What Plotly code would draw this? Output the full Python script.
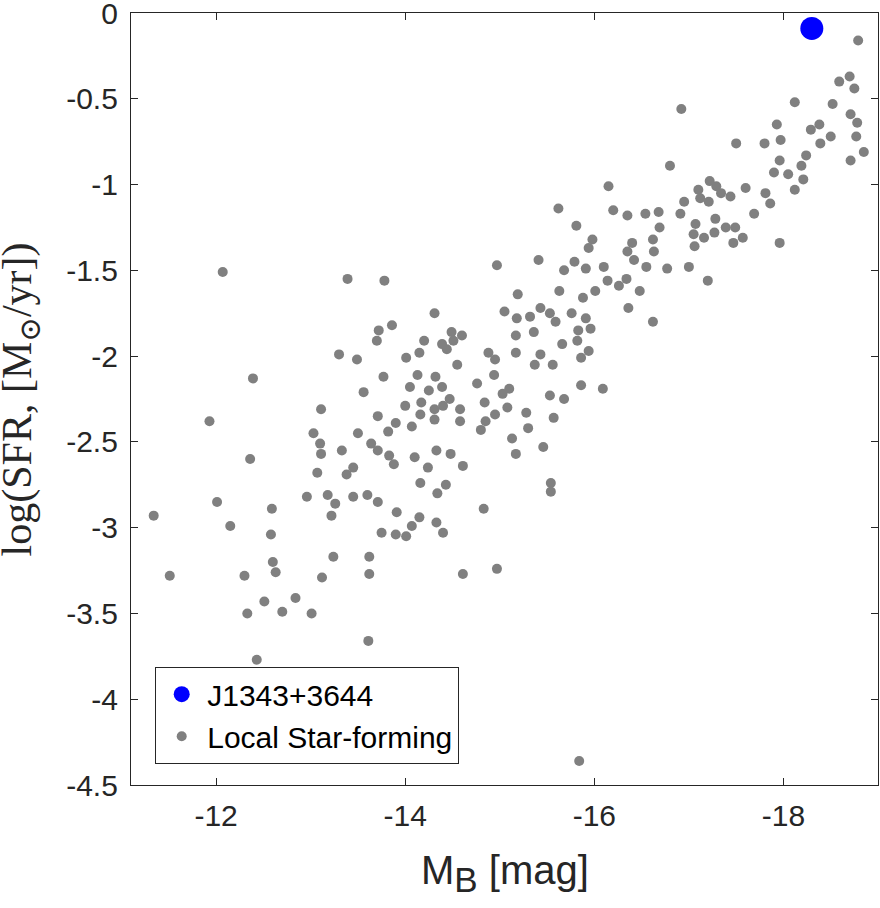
import plotly.graph_objects as go

# J1343+3644 (target galaxy)
mb_target = [-18.30]
logsfr_target = [-0.09]

# Local star-forming galaxies, M_B [mag]
mb_local = [
    -12.07, -12.39, -13.11, -11.93, -13.03, -13.10, -13.11, -12.36, -13.07, -12.96,
    -13.18, -12.01, -12.59, -11.34, -13.22, -12.15, -12.58, -13.24, -12.60, -12.63,
    -11.51, -12.30, -13.12, -12.84, -12.51, -12.33, -12.70, -13.01, -12.43,
    -14.97, -13.39, -13.78, -14.31, -13.72, -13.86, -13.70, -14.20, -14.49, -14.60,
    -14.39, -14.51, -14.44, -13.30, -13.49, -14.01, -14.15, -14.88, -14.95, -14.55,
    -13.77, -14.13, -14.32, -14.94, -14.05, -14.39, -14.25, -14.76, -13.56, -14.17,
    -14.47, -14.84, -14.00, -14.40, -14.31, -14.58, -14.16, -14.95, -13.71, -13.90,
    -14.31, -14.58, -14.85, -14.07, -13.82, -14.80, -13.50, -13.64, -13.71, -13.33,
    -13.83, -13.88, -14.10, -14.33, -14.48, -14.24, -14.61, -13.45, -13.38, -14.16,
    -14.43, -14.34, -13.45, -13.60, -13.71, -13.26, -14.83, -13.91, -14.15, -14.07,
    -14.33, -13.75, -13.90, -14.01, -14.40, -13.62,
    -13.62, -14.61, -14.97, -13.61,
    -16.80, -16.15, -15.62, -16.20, -16.35, -16.54, -16.68, -15.81, -16.69, -15.98,
    -15.94, -16.40, -16.62, -16.35, -16.63, -16.42, -15.41, -15.79, -15.68, -15.91,
    -16.10, -16.55, -16.77, -16.14, -16.34, -16.26, -16.48, -16.36, -16.62, -15.63,
    -15.88, -16.01, -15.19, -15.05, -15.18, -15.32, -15.43, -15.53, -15.59, -15.76,
    -15.91, -15.96, -15.83, -15.82, -15.66, -15.94, -15.86, -15.36, -15.17, -15.17,
    -15.43, -15.37, -15.56, -15.10, -15.03, -15.86, -16.09, -15.53, -15.68, -15.08,
    -15.28, -15.57, -15.30, -15.13, -15.17, -15.46,
    -15.54, -15.54, -15.84,
    -18.79, -18.70, -18.59, -18.75, -18.12, -18.52, -16.92, -18.71, -18.78, -17.93,
    -18.38, -18.29, -17.97, -18.77, -18.50, -17.50, -17.80, -18.39, -18.85, -18.24,
    -17.96, -18.71, -18.19, -17.90, -18.05, -18.21, -18.12, -17.22, -17.29, -17.10,
    -17.34, -17.60, -17.44, -17.81, -17.12, -17.21, -16.95, -17.86, -16.91, -17.69,
    -17.28, -17.07, -17.39, -17.49, -17.27, -17.05, -17.16, -17.57, -17.47, -17.96,
    -17.06, -17.00, -17.20,
]

# Local star-forming galaxies, log SFR [Msun/yr]
logsfr_local = [
    -1.51, -2.13, -2.31, -2.38, -2.45, -2.51, -2.57, -2.60, -2.68, -2.82,
    -2.81, -2.85, -2.89, -2.93, -2.93, -2.99, -3.04, -3.17, -3.20, -3.26,
    -3.28, -3.28, -3.29, -3.41, -3.43, -3.50, -3.49, -3.50, -3.77,
    -1.47, -1.55, -1.56, -1.75, -1.85, -1.82, -1.91, -1.91, -1.86, -1.88,
    -1.93, -1.91, -1.96, -1.99, -2.02, -2.01, -1.98, -1.98, -2.02, -2.05,
    -2.12, -2.11, -2.12, -2.11, -2.18, -2.18, -2.20, -2.16, -2.21, -2.27,
    -2.25, -2.27, -2.29, -2.29, -2.31, -2.31, -2.34, -2.34, -2.35, -2.39,
    -2.37, -2.38, -2.38, -2.41, -2.44, -2.43, -2.45, -2.51, -2.55, -2.55,
    -2.58, -2.63, -2.59, -2.55, -2.57, -2.65, -2.64, -2.65, -2.69, -2.74,
    -2.75, -2.80, -2.82, -2.81, -2.85, -2.86, -2.89, -2.91, -2.94, -2.99,
    -2.97, -3.03, -3.04, -3.05, -3.03, -3.17,
    -3.27, -3.27, -3.24, -3.66,
    -0.89, -1.01, -1.14, -1.15, -1.18, -1.17, -1.16, -1.24, -1.25, -1.32,
    -1.37, -1.34, -1.32, -1.39, -1.39, -1.44, -1.44, -1.45, -1.50, -1.49,
    -1.48, -1.48, -1.49, -1.56, -1.55, -1.59, -1.62, -1.72, -1.80, -1.62,
    -1.66, -1.62, -1.64, -1.74, -1.78, -1.77, -1.72, -1.75, -1.80, -1.75,
    -1.78, -1.84, -1.85, -1.91, -1.93, -1.97, -2.01, -1.86, -1.88, -1.98,
    -1.99, -2.05, -2.05, -2.19, -2.22, -2.17, -2.19, -2.23, -2.25, -2.30,
    -2.33, -2.36, -2.42, -2.48, -2.57, -2.53,
    -2.74, -2.79, -4.36,
    -0.16, -0.37, -0.40, -0.44, -0.52, -0.53, -0.56, -0.59, -0.64, -0.65,
    -0.65, -0.68, -0.74, -0.72, -0.72, -0.76, -0.76, -0.76, -0.81, -0.83,
    -0.86, -0.86, -0.89, -0.93, -0.94, -0.97, -1.03, -0.98, -1.01, -1.03,
    -1.05, -1.02, -1.07, -1.05, -1.08, -1.10, -1.10, -1.11, -1.17, -1.17,
    -1.20, -1.23, -1.25, -1.25, -1.28, -1.29, -1.31, -1.31, -1.34, -1.34,
    -1.36, -1.48, -1.56,
]

xtick_vals = [-12, -14, -16, -18]
xtick_text = ['-12', '-14', '-16', '-18']
ytick_vals = [0, -0.5, -1, -1.5, -2, -2.5, -3, -3.5, -4, -4.5]
ytick_text = ['0', '-0.5', '-1', '-1.5', '-2', '-2.5', '-3', '-3.5', '-4', '-4.5']

axisColor = '#262626'
sans = 'Liberation Sans, Arial, Helvetica, sans-serif'
serif = 'Liberation Serif, DejaVu Serif, Times New Roman, serif'

fig = go.Figure()
fig.add_trace(go.Scatter(
    x=mb_target, y=logsfr_target, mode='markers', name='J1343+3644',
    marker=dict(color='#0000ff', size=23, line_width=0),
))
fig.add_trace(go.Scatter(
    x=mb_local, y=logsfr_local, mode='markers', name='Local Star-forming',
    marker=dict(color='#808080', size=10, line_width=0),
))

axisStyle = dict(
    showgrid=False, zeroline=False, showline=True, linecolor=axisColor, linewidth=1.3,
    mirror='ticks', ticks='inside', ticklen=7, tickwidth=1.3, tickcolor=axisColor,
    tickfont=dict(family=sans, size=30, color=axisColor),
    automargin=False, ticklabeloverflow='allow',
)
fig.update_xaxes(range=[-11.1, -19], tickmode='array', tickvals=xtick_vals,
                 ticktext=xtick_text, ticklabelstandoff=4, **axisStyle)
fig.update_yaxes(range=[-4.5, 0], tickmode='array', tickvals=ytick_vals,
                 ticktext=ytick_text, ticklabelstandoff=6, **axisStyle)

fig.add_annotation(text='M<sub><span style="font-size:35px">B</span></sub> [mag]',
                   xref='paper', yref='paper',
                   x=0.5, y=-0.115, xanchor='center', yanchor='middle', showarrow=False,
                   font=dict(family=sans, size=40, color=axisColor))
fig.add_annotation(text='log(SFR, [M<sub>⊙</sub>/yr])', xref='paper', yref='paper',
                   x=-0.148, y=0.5, xanchor='center', yanchor='middle', showarrow=False,
                   textangle=-90, font=dict(family=serif, size=42, color=axisColor))

fig.update_layout(
    width=880, height=908,
    margin=dict(l=131, r=2, t=13, b=123, autoexpand=False),
    paper_bgcolor='white', plot_bgcolor='white',
    legend=dict(
        x=0.032, y=0.153, xanchor='left', yanchor='top',
        bgcolor='white', bordercolor=axisColor, borderwidth=1.3,
        font=dict(family=sans, size=30, color='black'),
        itemsizing='trace', itemwidth=41,
    ),
)

# drop the default 8px body margin so the figure fills the window
fig.write_html("out.html", config={'displayModeBar': False},
               post_script="document.body.style.margin='0';")
